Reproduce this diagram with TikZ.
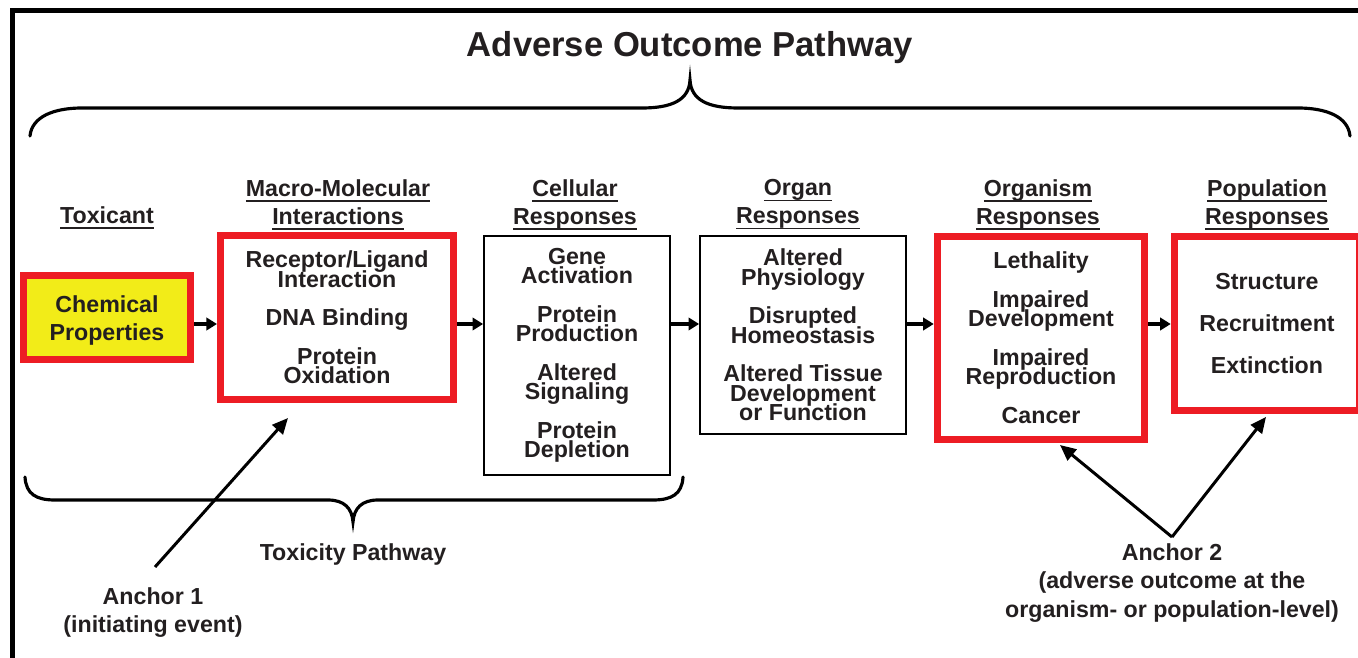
\documentclass[tikz,border=0pt]{standalone}
\usepackage{fontspec}
\setmainfont{Liberation Sans}
\usetikzlibrary{arrows.meta}

\definecolor{aopred}{RGB}{237,28,36}
\definecolor{aopyellow}{RGB}{242,236,24}
\definecolor{aopink}{RGB}{35,31,32}

\newcommand{\aopfont}{\fontsize{13.2}{11}\selectfont\bfseries\lineskiplimit=-20pt\lineskip=0pt}
\newcommand{\ulhead}[1]{\setbox0\hbox{#1\vphantom{p}}\rlap{\rule[-3pt]{\wd0}{0.8pt}}\box0}

\tikzset{
  hdr/.style={font=\fontsize{13.2}{15.9}\selectfont\bfseries, align=center, text=aopink},
  item/.style={font=\aopfont, align=center, text=aopink, inner sep=0pt},
  redbox/.style={item, draw=aopred, line width=4pt},
  blkbox/.style={item, draw=black, line width=1pt},
  flow/.style={-{Triangle[length=6pt,width=7pt]}, line width=2.2pt},
  anchorarrow/.style={-{Triangle[length=9pt,width=8pt]}, line width=1.7pt},
  brace/.style={line width=1.8pt, line cap=round},
}

\begin{document}
\begin{tikzpicture}[x=0.02cm, y=-0.02cm]
    \useasboundingbox (0,0) rectangle (1358,658);
    \clip (0,0) rectangle (1358,658);

    % Outer frame
    \draw[line width=2.8pt] (12.5,10.5) rectangle (1400,700);

    % Title and top brace
    \node[font=\fontsize{19.7}{22}\selectfont\bfseries, text=aopink] (title) at (690,48) {Adverse Outcome Pathway};
    \draw[brace] (30,136) .. controls (32,116) and (55,108) .. (82,108) -- (642,108)
        .. controls (672,108) and (689,100) .. (690,80)
        .. controls (691,100) and (708,108) .. (738,108) -- (1298,108)
        .. controls (1325,108) and (1348,116) .. (1350,136);

    % Column headers
    \node[hdr] (hTox) at (107,217.5) {\ulhead{Toxicant}};
    \node[hdr] (hMacro) at (338,204.5) {\ulhead{Macro-Molecular}\\\ulhead{Interactions}};
    \node[hdr] (hCell) at (575,204.5) {\ulhead{Cellular}\\\ulhead{Responses}};
    \node[hdr] (hOrgan) at (798,204.5) {\ulhead{Organ}\\\ulhead{Responses}};
    \node[hdr] (hOrganism) at (1038,204.5) {\ulhead{Organism}\\\ulhead{Responses}};
    \node[hdr] (hPop) at (1267,204.5) {\ulhead{Population}\\\ulhead{Responses}};

    % Boxes
    \node[redbox, fill=aopyellow, font=\fontsize{13.2}{15.6}\selectfont\bfseries,
          minimum width=3.34cm, minimum height=1.68cm] (chem) at (107,317.5)
        {\rule{0pt}{13pt}Chemical\\Properties};
    \node[redbox, minimum width=4.66cm, minimum height=3.28cm] (macro) at (337,317.5)
        {Receptor/Ligand\\Interaction\\[11pt]DNA Binding\\[11pt]Protein\\Oxidation};
    \node[blkbox, minimum width=3.72cm, minimum height=4.78cm] (cell) at (577,355.5)
        {Gene\\Activation\\[11pt]Protein\\Production\\[11pt]Altered\\Signaling\\[11pt]Protein\\Depletion};
    \node[blkbox, minimum width=4.12cm, minimum height=3.96cm] (organ) at (803,335)
        {Altered\\Physiology\\[11pt]Disrupted\\Homeostasis\\[11pt]Altered Tissue\\Development\\or Function};
    \node[redbox, minimum width=4.15cm, minimum height=4.06cm] (organism) at (1041,338)
        {Lethality\\[11pt]Impaired\\Development\\[11pt]Impaired\\Reproduction\\[11pt]Cancer};
    \node[redbox, minimum width=3.71cm, minimum height=3.48cm] (pop) at (1267,323.5)
        {Structure\\[13pt]Recruitment\\[13pt]Extinction};

    % Arrows along the pathway
    \coordinate (lvl) at (0,324);
    \draw[flow] (chem.east |- lvl) -- (macro.west |- lvl);
    \draw[flow] (macro.east |- lvl) -- (cell.west |- lvl);
    \draw[flow] (cell.east |- lvl) -- (organ.west |- lvl);
    \draw[flow] (organ.east |- lvl) -- (organism.west |- lvl);
    \draw[flow] (organism.east |- lvl) -- (pop.west |- lvl);

    % Bottom brace
    \draw[brace] (25,477) .. controls (26,494) and (36,500) .. (55,500) -- (328,500)
        .. controls (344,500) and (352,508) .. (353,522)
        .. controls (354,508) and (362,500) .. (378,500) -- (653,500)
        .. controls (672,500) and (682,494) .. (683,477);
    \node[item] (tox) at (353,555) {Toxicity Pathway};

    % Anchor 1
    \node[item, font=\fontsize{13.2}{16.1}\selectfont\bfseries] (anchor1) at (153,612.5)
        {Anchor 1\\(initiating event)};
    \coordinate (a1foot) at (155,567);
    \coordinate (a1tip) at (288,418);
    \draw[anchorarrow] (a1foot) -- (a1tip);

    % Anchor 2
    \node[item, font=\fontsize{13.2}{16.1}\selectfont\bfseries] (anchor2) at (1172,583)
        {Anchor 2\\(adverse outcome at the\\organism- or population-level)};
    \coordinate (a2foot) at (1172,537);
    \coordinate (a2left) at (1060,445);
    \coordinate (a2right) at (1266,417);
    \draw[anchorarrow] (a2foot) -- (a2left);
    \draw[anchorarrow] (a2foot) -- (a2right);
\end{tikzpicture}
\end{document}
